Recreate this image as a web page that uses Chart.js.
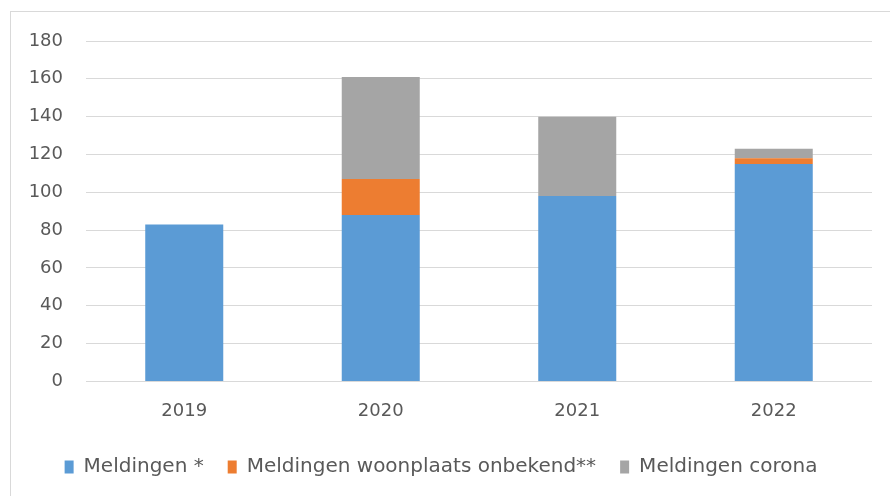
<!DOCTYPE html>
<html>
<head>
<meta charset="utf-8">
<script src="https://cdn.jsdelivr.net/npm/chart.js@4"></script>
<style>
    body { margin: 0; background: #ffffff; }
    #wrap { position: relative; width: 890px; height: 496px; overflow: hidden; }
    #frame { position: absolute; left: 10px; top: 11px; width: 900px; height: 500px; border: 1px solid #d9d9d9; pointer-events: none; }
</style>
</head>
<body>
<div id="wrap">
    <canvas id="chart" width="890" height="496"></canvas>
    <div id="frame"></div>
</div>
<script>
// data
const years = ['2019', '2020', '2021', '2022'];
const meldingen = [83, 88, 98, 115];
const woonplaatsOnbekend = [0, 19, 0, 3];
const corona = [0, 54, 42, 5];

const textColor = '#595959';
const fontFamily = '"DejaVu Sans", sans-serif';

new Chart(document.getElementById('chart'), {
    type: 'bar',
    data: {
        labels: years,
        datasets: [{
            label: 'Meldingen *',
            data: meldingen,
            backgroundColor: '#5b9bd5'
        }, {
            label: 'Meldingen woonplaats onbekend**',
            data: woonplaatsOnbekend,
            backgroundColor: '#ed7d31'
        }, {
            label: 'Meldingen corona',
            data: corona,
            backgroundColor: '#a5a5a5'
        }]
    },
    options: {
        responsive: false,
        animation: false,
        categoryPercentage: 1,
        barPercentage: 0.397,
        layout: {
            padding: { left: 10, right: 18, top: 41, bottom: 9 }
        },
        plugins: {
            tooltip: { enabled: false },
            legend: {
                position: 'bottom',
                labels: {
                    color: textColor,
                    font: { family: fontFamily, size: 20 },
                    boxWidth: 9,
                    boxHeight: 13,
                    padding: 24
                }
            }
        },
        scales: {
            x: {
                stacked: true,
                grid: { display: false },
                border: { display: false },
                ticks: {
                    color: textColor,
                    font: { family: fontFamily, size: 18 },
                    padding: 11
                }
            },
            y: {
                stacked: true,
                min: 0,
                max: 180,
                afterFit: function (scale) { scale.width = 76; },
                grid: { color: '#d9d9d9', lineWidth: 1, drawTicks: false },
                border: { display: false },
                ticks: {
                    stepSize: 20,
                    color: textColor,
                    font: { family: fontFamily, size: 18 },
                    padding: 23
                }
            }
        }
    }
});
</script>
</body>
</html>
